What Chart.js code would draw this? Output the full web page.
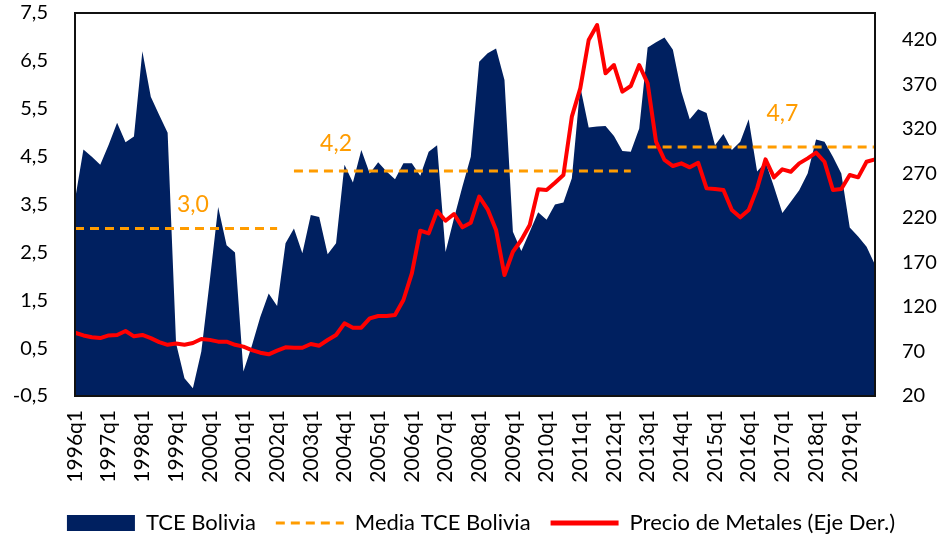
<!DOCTYPE html>
<html>
<head>
<meta charset="utf-8">
<script src="https://cdn.jsdelivr.net/npm/chart.js@4.4.1/dist/chart.umd.min.js"></script>
<style>
  html, body { margin: 0; padding: 0; background: #fff; }
  canvas { display: block; }
</style>
</head>
<body>
<canvas id="c" width="940" height="538"></canvas>
<script>
// ---- Data ----
const years = [1996,1997,1998,1999,2000,2001,2002,2003,2004,2005,2006,2007,2008,2009,2010,2011,2012,2013,2014,2015,2016,2017,2018,2019];
const quarters = [];
years.forEach(y => { for (let q = 1; q <= 4; q++) quarters.push(y + 'q' + q); });

const tceBolivia = [
  3.6, 4.65, 4.5, 4.33, 4.75, 5.21, 4.8, 4.92, 6.7, 5.75, 5.37, 5.0,
  0.6, -0.13, -0.34, 0.43, 1.9, 3.45, 2.65, 2.5, 0.01, 0.55, 1.15, 1.64,
  1.38, 2.69, 3.0, 2.48, 3.28, 3.24, 2.46, 2.69, 4.33, 3.96, 4.64, 4.15,
  4.38, 4.19, 4.03, 4.36, 4.36, 4.1, 4.6, 4.74, 2.51, 3.21, 3.87, 4.5,
  6.48, 6.66, 6.76, 6.1, 2.93, 2.53, 2.93, 3.34, 3.18, 3.5, 3.54, 4.05,
  5.96, 5.11, 5.13, 5.14, 4.93, 4.62, 4.6, 5.09, 6.78, 6.89, 6.99, 6.73,
  5.86, 5.28, 5.49, 5.41, 4.74, 4.97, 4.64, 4.81, 5.28, 4.19, 4.39, 3.87,
  3.32, 3.56, 3.8, 4.15, 4.86, 4.81, 4.5, 4.15, 3.02, 2.83, 2.62, 2.24
];

const precioMetales = [
  91, 88, 86, 85, 88, 88.5, 93, 87, 88.5, 85, 80.5, 77.5,
  79, 77.5, 79.5, 84, 83, 81, 81, 77.5, 75.4, 71.6, 68.6, 66.8,
  70.9, 74.6, 74.2, 74.2, 78.4, 76.5, 82.9, 88.5, 101.6, 96.7, 96.7, 107.2,
  109.8, 109.8, 111, 127.8, 157.7, 205.6, 202.6, 227.7, 216.8, 224.3, 209.4, 214.6,
  243.8, 229.6, 206.4, 155.8, 182, 195.1, 212, 252, 251.3, 259.5, 268.1, 333.6,
  365.4, 419.7, 436.5, 382.3, 391.6, 361.7, 368, 391.6, 371, 305.5, 285, 278.2,
  281.2, 276.7, 281.9, 253.1, 252.4, 251.3, 228.8, 220.6, 228.8, 253.1, 285.7, 265.5,
  274.5, 271.8, 281.2, 286.8, 293.2, 283, 251.3, 252.4, 268.1, 265.5, 283, 285.7
];

// Mean periods of TCE Bolivia
const meanValues = [3.0, 4.2, 4.7];
const meanStart  = ['1996q1', '2002q3', '2013q1'];
const meanEnd    = ['2002q1', '2012q3', '2019q4'];
const meanLabelAt = ['1999q3', '2003q4', '2017q1'];

const leftTicks  = [-0.5, 0.5, 1.5, 2.5, 3.5, 4.5, 5.5, 6.5, 7.5];
const rightTicks = [20, 70, 120, 170, 220, 270, 320, 370, 420];

// Build mean series (null outside periods)
const mediaTCE = quarters.map(() => null);
meanValues.forEach((v, k) => {
  const a = quarters.indexOf(meanStart[k]), b = quarters.indexOf(meanEnd[k]);
  for (let i = a; i <= b; i++) mediaTCE[i] = v;
});

// ---- Styles ----
const NAVY = '#002060';
const ORANGE = '#FF9C00';
const RED = '#FF0000';
const FRAME = '#111111';
const FONT = 'Lato, "Noto Sans", sans-serif';
const fmt1 = v => v.toFixed(1).replace('.', ',');

Chart.defaults.font.family = FONT;
Chart.defaults.font.size = 20;
Chart.defaults.color = '#000';

const plotFramePlugin = {
  id: 'plotFrame',
  afterDraw(chart) {
    const ctx = chart.ctx;
    const a = chart.chartArea;
    ctx.save();
    ctx.setLineDash([]);
    ctx.strokeStyle = FRAME;
    ctx.lineWidth = 2;
    ctx.beginPath();
    ctx.rect(a.left, a.top, a.right - a.left, a.bottom - a.top);
    ctx.stroke();
    ctx.restore();
  }
};

// Nudge the legend block to where the reference places it
const legendShift = { dx: 11, dy: 6 };
const legendShiftPlugin = {
  id: 'legendShift',
  afterLayout(chart) {
    const lg = chart.legend;
    if (!lg) return;
    lg.left += legendShift.dx; lg.right += legendShift.dx;
    lg.top += legendShift.dy; lg.bottom += legendShift.dy;
  }
};

const meanLabelOffsets = [24, 27, 33];
const meanLabelPlugin = {
  id: 'meanLabels',
  afterDatasetsDraw(chart) {
    const ctx = chart.ctx;
    const xs = chart.scales.x, ys = chart.scales.y;
    ctx.save();
    ctx.fillStyle = ORANGE;
    ctx.font = '23px ' + FONT;
    ctx.textAlign = 'center';
    ctx.textBaseline = 'middle';
    meanValues.forEach((v, k) => {
      const x = xs.getPixelForValue(quarters.indexOf(meanLabelAt[k]));
      const y = ys.getPixelForValue(v) - meanLabelOffsets[k];
      ctx.fillText(fmt1(v), x, y);
    });
    ctx.restore();
  }
};

const frameBorder = { display: true, color: FRAME, width: 2, z: 1 };

new Chart(document.getElementById('c'), {
  type: 'line',
  data: {
    labels: quarters,
    datasets: [
      {
        label: 'TCE Bolivia',
        data: tceBolivia,
        yAxisID: 'y',
        backgroundColor: NAVY,
        borderColor: 'rgba(0,0,0,0)',
        borderWidth: 1,
        fill: 'start',
        pointRadius: 0,
        tension: 0,
        order: 2
      },
      {
        label: 'Media TCE Bolivia',
        data: mediaTCE,
        yAxisID: 'y',
        borderColor: ORANGE,
        backgroundColor: ORANGE,
        borderWidth: 3,
        borderDash: [9, 6],
        fill: false,
        pointRadius: 0,
        spanGaps: false,
        order: 1
      },
      {
        label: 'Precio de Metales (Eje Der.)',
        data: precioMetales,
        yAxisID: 'y1',
        borderColor: RED,
        backgroundColor: RED,
        borderWidth: 4,
        fill: false,
        pointRadius: 0,
        tension: 0,
        borderJoinStyle: 'round',
        order: 0
      }
    ]
  },
  options: {
    responsive: false,
    animation: false,
    events: [],
    layout: { padding: { top: 13, left: 0, right: 0, bottom: 0 } },
    scales: {
      x: {
        offset: false,
        grid: { display: false, drawTicks: false },
        border: frameBorder,
        ticks: {
          autoSkip: false,
          maxRotation: 90,
          minRotation: 90,
          padding: 14,
          font: { size: 21 },
          callback: function(val, idx) {
            const l = quarters[idx];
            return l.endsWith('q1') ? l : '';
          }
        },
        afterFit(scale) { scale.height = 90; scale.paddingLeft = 0; scale.paddingRight = 0; }
      },
      xTop: {
        type: 'category',
        axis: 'x',
        position: 'top',
        offset: false,
        display: true,
        grid: { display: false, drawTicks: false },
        border: frameBorder,
        ticks: { display: false },
        afterFit(scale) { scale.height = 0; scale.paddingLeft = 0; scale.paddingRight = 0; }
      },
      y: {
        position: 'left',
        min: -0.5,
        max: 7.5,
        grid: { display: false, drawTicks: false },
        border: frameBorder,
        ticks: { padding: 27, callback: v => fmt1(v) },
        afterBuildTicks(scale) { scale.ticks = leftTicks.map(v => ({ value: v })); },
        afterFit(scale) { scale.width = 75; scale.paddingTop = 0; scale.paddingBottom = 0; }
      },
      y1: {
        position: 'right',
        min: 20,
        max: 450,
        grid: { display: false, drawTicks: false },
        border: frameBorder,
        ticks: { padding: 27, callback: v => String(v) },
        afterBuildTicks(scale) { scale.ticks = rightTicks.map(v => ({ value: v })); },
        afterFit(scale) { scale.width = 65; scale.paddingTop = 0; scale.paddingBottom = 0; }
      }
    },
    plugins: {
      tooltip: { enabled: false },
      legend: {
        position: 'bottom',
        labels: {
          usePointStyle: true,
          pointStyleWidth: 68,
          boxHeight: 16,
          padding: 20,
          color: '#000',
          font: { size: 22 },
          sort: (a, b) => a.datasetIndex - b.datasetIndex,
          generateLabels(chart) {
            const items = Chart.defaults.plugins.legend.labels.generateLabels(chart);
            items.forEach(it => {
              if (it.datasetIndex === 0) {
                it.pointStyle = 'rect';
                it.fillStyle = NAVY;
                it.strokeStyle = NAVY;
                it.lineWidth = 0;
              } else if (it.datasetIndex === 1) {
                it.pointStyle = 'line';
                it.strokeStyle = ORANGE;
                it.lineWidth = 3;
                it.lineDash = [9, 6];
              } else {
                it.pointStyle = 'line';
                it.strokeStyle = RED;
                it.lineWidth = 5;
                it.lineDash = [];
              }
            });
            return items;
          }
        }
      }
    }
  },
  plugins: [plotFramePlugin, legendShiftPlugin, meanLabelPlugin]
});
</script>
</body>
</html>
